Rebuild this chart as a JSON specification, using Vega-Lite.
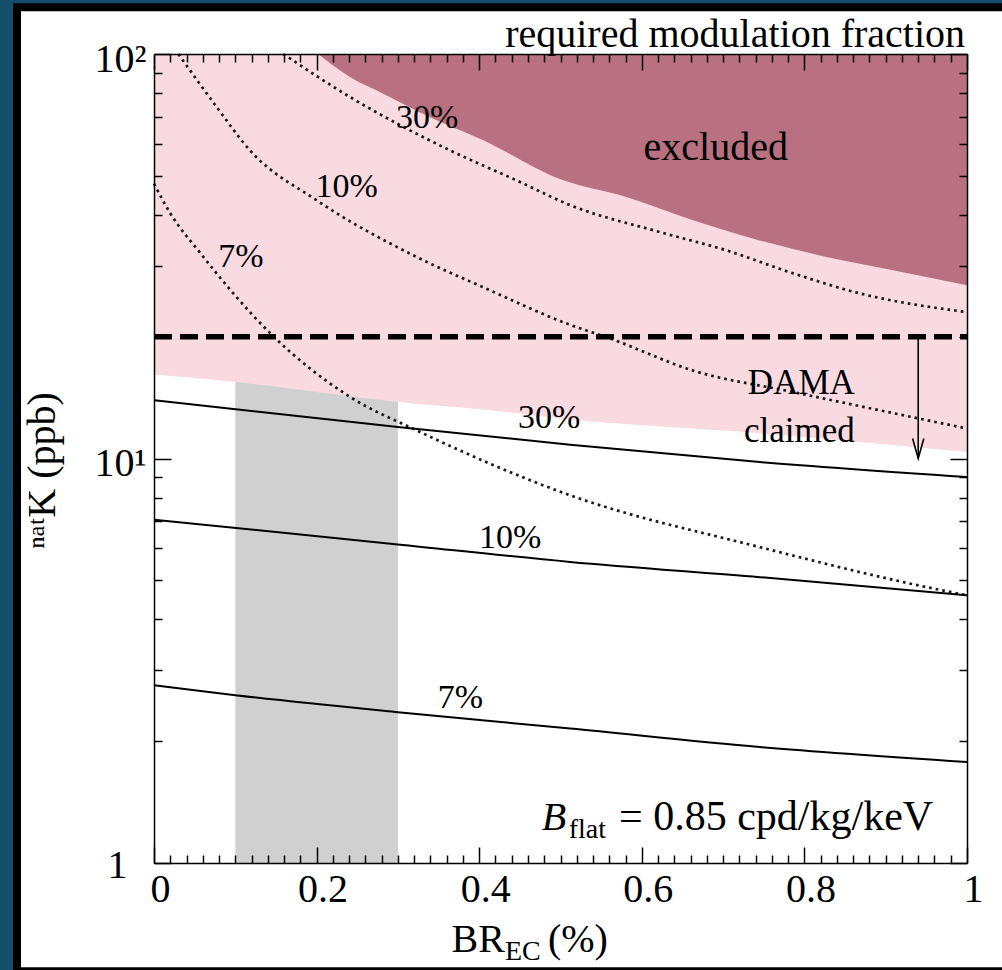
{
  "$schema": "https://vega.github.io/schema/vega-lite/v6.json",
  "width": 813,
  "height": 809,
  "autosize": {"type": "none"},
  "padding": {"left": 154, "top": 54, "right": 35, "bottom": 107},
  "background": "#154d6d",
  "config": {
    "view": {"stroke": null, "fill": null},
    "axis": {
      "domainColor": "black",
      "domainWidth": 1.5,
      "tickColor": "black",
      "tickWidth": 1.5,
      "labelFont": "Liberation Serif",
      "labelFontSize": 40,
      "labelColor": "black",
      "labelFlush": false,
      "labelOverlap": false,
      "titleFont": "Liberation Serif",
      "titleFontSize": 40,
      "titleFontWeight": "normal",
      "titleColor": "black",
      "grid": false
    },
    "text": {"font": "Liberation Serif", "color": "black"}
  },
  "datasets": {
    "band": [{"x": 0.1, "x2": 0.3, "y": 1, "y2": 100}],
    "claimed": [
      {"x": 0, "y": 16.12, "top": 100},
      {"x": 0.1, "y": 15.46, "top": 100},
      {"x": 0.3, "y": 13.8, "top": 100},
      {"x": 0.413, "y": 13.16, "top": 100},
      {"x": 0.5, "y": 12.55, "top": 100},
      {"x": 0.745, "y": 11.54, "top": 100},
      {"x": 1.0, "y": 10.38, "top": 100}
    ],
    "excluded": [
      {"x": 0.202, "y": 100, "top": 100},
      {"x": 0.241, "y": 87.7, "top": 100},
      {"x": 0.282, "y": 79.8, "top": 100},
      {"x": 0.335, "y": 70.5, "top": 100},
      {"x": 0.405, "y": 61.2, "top": 100},
      {"x": 0.5, "y": 49.0, "top": 100},
      {"x": 0.581, "y": 44.3, "top": 100},
      {"x": 0.663, "y": 38.8, "top": 100},
      {"x": 0.745, "y": 34.6, "top": 100},
      {"x": 0.827, "y": 31.5, "top": 100},
      {"x": 0.909, "y": 29.2, "top": 100},
      {"x": 1.0, "y": 26.8, "top": 100}
    ],
    "curves": [
      {"curve": "d30", "kind": "dotted", "x": 0.159, "y": 100},
      {"curve": "d30", "kind": "dotted", "x": 0.241, "y": 78.3},
      {"curve": "d30", "kind": "dotted", "x": 0.364, "y": 57.8},
      {"curve": "d30", "kind": "dotted", "x": 0.446, "y": 48.7},
      {"curve": "d30", "kind": "dotted", "x": 0.512, "y": 42.3},
      {"curve": "d30", "kind": "dotted", "x": 0.622, "y": 36.3},
      {"curve": "d30", "kind": "dotted", "x": 0.704, "y": 32.7},
      {"curve": "d30", "kind": "dotted", "x": 0.786, "y": 28.7},
      {"curve": "d30", "kind": "dotted", "x": 0.868, "y": 25.6},
      {"curve": "d30", "kind": "dotted", "x": 1.0, "y": 23.0},
      {"curve": "d10", "kind": "dotted", "x": 0.03, "y": 100},
      {"curve": "d10", "kind": "dotted", "x": 0.077, "y": 74},
      {"curve": "d10", "kind": "dotted", "x": 0.118, "y": 57.8},
      {"curve": "d10", "kind": "dotted", "x": 0.2, "y": 43.5},
      {"curve": "d10", "kind": "dotted", "x": 0.323, "y": 31.5},
      {"curve": "d10", "kind": "dotted", "x": 0.405, "y": 26.5},
      {"curve": "d10", "kind": "dotted", "x": 0.512, "y": 21.4},
      {"curve": "d10", "kind": "dotted", "x": 0.561, "y": 19.8},
      {"curve": "d10", "kind": "dotted", "x": 0.663, "y": 16.5},
      {"curve": "d10", "kind": "dotted", "x": 0.786, "y": 14.6},
      {"curve": "d10", "kind": "dotted", "x": 1.0, "y": 11.86},
      {"curve": "d7", "kind": "dotted", "x": 0, "y": 47.8},
      {"curve": "d7", "kind": "dotted", "x": 0.02, "y": 40.4},
      {"curve": "d7", "kind": "dotted", "x": 0.057, "y": 32.2},
      {"curve": "d7", "kind": "dotted", "x": 0.143, "y": 20.4},
      {"curve": "d7", "kind": "dotted", "x": 0.241, "y": 14.2},
      {"curve": "d7", "kind": "dotted", "x": 0.323, "y": 11.74},
      {"curve": "d7", "kind": "dotted", "x": 0.512, "y": 8.11},
      {"curve": "d7", "kind": "dotted", "x": 0.745, "y": 6.04},
      {"curve": "d7", "kind": "dotted", "x": 0.95, "y": 4.81},
      {"curve": "d7", "kind": "dotted", "x": 1.0, "y": 4.59},
      {"curve": "s30", "kind": "solid", "x": 0, "y": 13.93},
      {"curve": "s30", "kind": "solid", "x": 0.3, "y": 11.96},
      {"curve": "s30", "kind": "solid", "x": 0.512, "y": 10.82},
      {"curve": "s30", "kind": "solid", "x": 0.745, "y": 9.8},
      {"curve": "s30", "kind": "solid", "x": 1.0, "y": 9.0},
      {"curve": "s10", "kind": "solid", "x": 0, "y": 7.06},
      {"curve": "s10", "kind": "solid", "x": 0.3, "y": 6.13},
      {"curve": "s10", "kind": "solid", "x": 0.512, "y": 5.55},
      {"curve": "s10", "kind": "solid", "x": 0.745, "y": 5.09},
      {"curve": "s10", "kind": "solid", "x": 1.0, "y": 4.59},
      {"curve": "s7", "kind": "solid", "x": 0, "y": 2.75},
      {"curve": "s7", "kind": "solid", "x": 0.1, "y": 2.6},
      {"curve": "s7", "kind": "solid", "x": 0.3, "y": 2.36},
      {"curve": "s7", "kind": "solid", "x": 0.512, "y": 2.15},
      {"curve": "s7", "kind": "solid", "x": 0.745, "y": 1.935},
      {"curve": "s7", "kind": "solid", "x": 1.0, "y": 1.777}
    ],
    "dama": [{"x": 0, "x2": 1, "y": 20}],
    "arrow": [{"x": 0.94, "y": 20, "y2": 10}],
    "notes": [
      {"group": "top", "x": 1, "y": 100, "text": "required modulation fraction"},
      {"group": "excl", "x": 0.691, "y": 54.6, "text": "excluded"},
      {"group": "pct", "x": 0.336, "y": 69.6, "text": "30%"},
      {"group": "pct", "x": 0.237, "y": 46.9, "text": "10%"},
      {"group": "pct", "x": 0.107, "y": 31.4, "text": "7%"},
      {"group": "pct", "x": 0.486, "y": 12.57, "text": "30%"},
      {"group": "pct", "x": 0.438, "y": 6.37, "text": "10%"},
      {"group": "pct", "x": 0.377, "y": 2.555, "text": "7%"},
      {"group": "dama", "x": 0.862, "y": 15.35, "text": "DAMA"},
      {"group": "dama", "x": 0.862, "y": 11.67, "text": "claimed"},
      {"group": "bsym", "x": 0.477, "y": 1.205, "text": "B"},
      {"group": "bsub", "x": 0.51, "y": 1.205, "text": "flat"},
      {"group": "bval", "x": 0.572, "y": 1.205, "text": "= 0.85 cpd/kg/keV"},
      {"group": "xbr", "x": 0.4317, "y": 1, "text": "BR"},
      {"group": "xsub", "x": 0.4317, "y": 1, "text": "EC"},
      {"group": "xpct", "x": 0.4846, "y": 1, "text": "(%)"}
    ]
  },
  "resolve": {"axis": {"x": "independent", "y": "independent"}},
  "layer": [
    {
      "data": {"name": "band"},
      "mark": {"type": "rect", "fill": "white", "stroke": "black", "strokeWidth": 8},
      "encoding": {
        "x": {"datum": -0.1685, "type": "quantitative", "scale": {"domain": [0, 1], "nice": false, "zero": false}, "axis": null},
        "x2": {"datum": 1.0529},
        "y": {"datum": 130.5, "type": "quantitative", "scale": {"type": "log", "domain": [1, 100], "nice": false}, "axis": null},
        "y2": {"datum": 0.54}
      }
    },
    {
      "data": {"name": "band"},
      "mark": {"type": "rect", "fill": "#d0d0d0"},
      "encoding": {
        "x": {"field": "x", "type": "quantitative", "scale": {"domain": [0, 1], "nice": false, "zero": false}, "axis": null},
        "x2": {"field": "x2"},
        "y": {"field": "y", "type": "quantitative", "scale": {"type": "log", "domain": [1, 100], "nice": false}, "axis": null},
        "y2": {"field": "y2"}
      }
    },
    {
      "data": {"name": "claimed"},
      "mark": {"type": "area", "fill": "#f8dae0", "interpolate": "monotone"},
      "encoding": {
        "x": {"field": "x", "type": "quantitative", "scale": {"domain": [0, 1], "nice": false, "zero": false}, "axis": null},
        "y": {"field": "y", "type": "quantitative", "scale": {"type": "log", "domain": [1, 100], "nice": false}, "axis": null},
        "y2": {"field": "top"}
      }
    },
    {
      "data": {"name": "excluded"},
      "mark": {"type": "area", "fill": "#b97080", "interpolate": "monotone"},
      "encoding": {
        "x": {"field": "x", "type": "quantitative", "scale": {"domain": [0, 1], "nice": false, "zero": false}, "axis": null},
        "y": {"field": "y", "type": "quantitative", "scale": {"type": "log", "domain": [1, 100], "nice": false}, "axis": null},
        "y2": {"field": "top"}
      }
    },
    {
      "data": {"name": "curves"},
      "transform": [{"filter": "datum.kind == 'dotted'"}],
      "mark": {"type": "line", "stroke": "#1a1a1a", "strokeWidth": 2.7, "strokeDash": [2.7, 4.0], "interpolate": "monotone"},
      "encoding": {
        "x": {"field": "x", "type": "quantitative", "scale": {"domain": [0, 1], "nice": false, "zero": false}, "axis": null},
        "y": {"field": "y", "type": "quantitative", "scale": {"type": "log", "domain": [1, 100], "nice": false}, "axis": null},
        "detail": {"field": "curve"}
      }
    },
    {
      "data": {"name": "curves"},
      "transform": [{"filter": "datum.kind == 'solid'"}],
      "mark": {"type": "line", "stroke": "black", "strokeWidth": 2, "interpolate": "monotone"},
      "encoding": {
        "x": {"field": "x", "type": "quantitative", "scale": {"domain": [0, 1], "nice": false, "zero": false}, "axis": null},
        "y": {"field": "y", "type": "quantitative", "scale": {"type": "log", "domain": [1, 100], "nice": false}, "axis": null},
        "detail": {"field": "curve"}
      }
    },
    {
      "data": {"name": "dama"},
      "mark": {"type": "rule", "stroke": "black", "strokeWidth": 5.5, "strokeDash": [18, 8]},
      "encoding": {
        "x": {"field": "x", "type": "quantitative", "scale": {"domain": [0, 1], "nice": false, "zero": false}, "axis": null},
        "x2": {"field": "x2"},
        "y": {"field": "y", "type": "quantitative", "scale": {"type": "log", "domain": [1, 100], "nice": false}, "axis": null}
      }
    },
    {
      "data": {"name": "arrow"},
      "mark": {"type": "rule", "stroke": "black", "strokeWidth": 1.6},
      "encoding": {
        "x": {"field": "x", "type": "quantitative", "scale": {"domain": [0, 1], "nice": false, "zero": false}, "axis": null},
        "y": {"field": "y", "type": "quantitative", "scale": {"type": "log", "domain": [1, 100], "nice": false}, "axis": null},
        "y2": {"field": "y2"}
      }
    },
    {
      "data": {"name": "arrow"},
      "mark": {"type": "point", "shape": "M-0.28,-1L0,0L0.28,-1", "filled": false, "stroke": "black", "strokeWidth": 1.6, "size": 1600, "opacity": 1},
      "encoding": {
        "x": {"field": "x", "type": "quantitative", "scale": {"domain": [0, 1], "nice": false, "zero": false}, "axis": null},
        "y": {"field": "y2", "type": "quantitative", "scale": {"type": "log", "domain": [1, 100], "nice": false}, "axis": null}
      }
    },
    {
      "data": {"name": "notes"},
      "transform": [{"filter": "datum.group == 'top'"}],
      "mark": {"type": "text", "fontSize": 40, "align": "right", "baseline": "alphabetic", "dy": -7, "dx": -2},
      "encoding": {
        "x": {"field": "x", "type": "quantitative", "scale": {"domain": [0, 1], "nice": false, "zero": false}, "axis": null},
        "y": {"field": "y", "type": "quantitative", "scale": {"type": "log", "domain": [1, 100], "nice": false}, "axis": null},
        "text": {"field": "text"}
      }
    },
    {
      "data": {"name": "notes"},
      "transform": [{"filter": "datum.group == 'excl'"}],
      "mark": {"type": "text", "fontSize": 40, "align": "center", "baseline": "alphabetic"},
      "encoding": {
        "x": {"field": "x", "type": "quantitative", "scale": {"domain": [0, 1], "nice": false, "zero": false}, "axis": null},
        "y": {"field": "y", "type": "quantitative", "scale": {"type": "log", "domain": [1, 100], "nice": false}, "axis": null},
        "text": {"field": "text"}
      }
    },
    {
      "data": {"name": "notes"},
      "transform": [{"filter": "datum.group == 'pct'"}],
      "mark": {"type": "text", "fontSize": 34, "align": "center", "baseline": "middle"},
      "encoding": {
        "x": {"field": "x", "type": "quantitative", "scale": {"domain": [0, 1], "nice": false, "zero": false}, "axis": null},
        "y": {"field": "y", "type": "quantitative", "scale": {"type": "log", "domain": [1, 100], "nice": false}, "axis": null},
        "text": {"field": "text"}
      }
    },
    {
      "data": {"name": "notes"},
      "transform": [{"filter": "datum.group == 'dama'"}],
      "mark": {"type": "text", "fontSize": 35, "align": "right", "baseline": "middle"},
      "encoding": {
        "x": {"field": "x", "type": "quantitative", "scale": {"domain": [0, 1], "nice": false, "zero": false}, "axis": null},
        "y": {"field": "y", "type": "quantitative", "scale": {"type": "log", "domain": [1, 100], "nice": false}, "axis": null},
        "text": {"field": "text"}
      }
    },
    {
      "data": {"name": "notes"},
      "transform": [{"filter": "datum.group == 'bsym'"}],
      "mark": {"type": "text", "fontSize": 40, "fontStyle": "italic", "align": "left", "baseline": "alphabetic"},
      "encoding": {
        "x": {"field": "x", "type": "quantitative", "scale": {"domain": [0, 1], "nice": false, "zero": false}, "axis": null},
        "y": {"field": "y", "type": "quantitative", "scale": {"type": "log", "domain": [1, 100], "nice": false}, "axis": null},
        "text": {"field": "text"}
      }
    },
    {
      "data": {"name": "notes"},
      "transform": [{"filter": "datum.group == 'bsub'"}],
      "mark": {"type": "text", "fontSize": 28, "align": "left", "baseline": "alphabetic", "dy": 8},
      "encoding": {
        "x": {"field": "x", "type": "quantitative", "scale": {"domain": [0, 1], "nice": false, "zero": false}, "axis": null},
        "y": {"field": "y", "type": "quantitative", "scale": {"type": "log", "domain": [1, 100], "nice": false}, "axis": null},
        "text": {"field": "text"}
      }
    },
    {
      "data": {"name": "notes"},
      "transform": [{"filter": "datum.group == 'bval'"}],
      "mark": {"type": "text", "fontSize": 42, "align": "left", "baseline": "alphabetic"},
      "encoding": {
        "x": {"field": "x", "type": "quantitative", "scale": {"domain": [0, 1], "nice": false, "zero": false}, "axis": null},
        "y": {"field": "y", "type": "quantitative", "scale": {"type": "log", "domain": [1, 100], "nice": false}, "axis": null},
        "text": {"field": "text"}
      }
    },
    {
      "data": {"name": "notes"},
      "transform": [{"filter": "datum.group == 'xbr'"}],
      "mark": {"type": "text", "fontSize": 40, "align": "right", "baseline": "alphabetic", "dy": 89},
      "encoding": {
        "x": {"field": "x", "type": "quantitative", "scale": {"domain": [0, 1], "nice": false, "zero": false}, "axis": null},
        "y": {"field": "y", "type": "quantitative", "scale": {"type": "log", "domain": [1, 100], "nice": false}, "axis": null},
        "text": {"field": "text"}
      }
    },
    {
      "data": {"name": "notes"},
      "transform": [{"filter": "datum.group == 'xsub'"}],
      "mark": {"type": "text", "fontSize": 28, "align": "left", "baseline": "alphabetic", "dy": 97},
      "encoding": {
        "x": {"field": "x", "type": "quantitative", "scale": {"domain": [0, 1], "nice": false, "zero": false}, "axis": null},
        "y": {"field": "y", "type": "quantitative", "scale": {"type": "log", "domain": [1, 100], "nice": false}, "axis": null},
        "text": {"field": "text"}
      }
    },
    {
      "data": {"name": "notes"},
      "transform": [{"filter": "datum.group == 'xpct'"}],
      "mark": {"type": "text", "fontSize": 40, "align": "left", "baseline": "alphabetic", "dy": 89},
      "encoding": {
        "x": {"field": "x", "type": "quantitative", "scale": {"domain": [0, 1], "nice": false, "zero": false}, "axis": null},
        "y": {"field": "y", "type": "quantitative", "scale": {"type": "log", "domain": [1, 100], "nice": false}, "axis": null},
        "text": {"field": "text"}
      }
    },
    {
      "data": {"name": "band"},
      "mark": {"type": "point", "opacity": 0},
      "encoding": {
        "x": {
          "field": "x", "type": "quantitative",
          "scale": {"domain": [0, 1], "nice": false, "zero": false},
          "axis": {
            "orient": "bottom",
            "zindex": 2,
            "title": null,
            "values": [0,0.02,0.04,0.06,0.08,0.1,0.12,0.14,0.16,0.18,0.2,0.22,0.24,0.26,0.28,0.3,0.32,0.34,0.36,0.38,0.4,0.42,0.44,0.46,0.48,0.5,0.52,0.54,0.56,0.58,0.6,0.62,0.64,0.66,0.68,0.7,0.72,0.74,0.76,0.78,0.8,0.82,0.84,0.86,0.88,0.9,0.92,0.94,0.96,0.98,1],
            "tickSize": {"condition": {"test": "abs(datum.value*5-round(datum.value*5))<0.001", "value": -16}, "value": -8},
            "labelExpr": "abs(datum.value*5-round(datum.value*5))<0.001 ? (datum.value==0 ? '0' : datum.value==1 ? '1' : format(datum.value, '.1f')) : ''",
            "labelPadding": 42,
            "labelOffset": 6,
            "labelAlign": "center",
            "labelBaseline": "middle"
          }
        },
        "y": {
          "field": "y", "type": "quantitative",
          "scale": {"type": "log", "domain": [1, 100], "nice": false},
          "axis": {
            "orient": "left",
            "zindex": 2,
            "title": "ⁿᵃᵗK (ppb)",
            "titleX": -112,
            "titleY": 416,
            "titleAngle": -90,
            "titleAlign": "center",
            "titleBaseline": "middle",
            "values": [1,2,3,4,5,6,7,8,9,10,20,30,40,50,60,70,80,90,100],
            "tickSize": {"condition": {"test": "indexof([1,10,100], datum.value) >= 0", "value": -17}, "value": -8},
            "labelExpr": "datum.value==100 ? '10²' : datum.value==10 ? '10¹' : datum.value==1 ? '1' : ''",
            "labelPadding": {"condition": {"test": "datum.value==1", "value": 44}, "value": 25},
            "labelOffset": {"condition": {"test": "datum.value==1", "value": 2}, "value": 5},
            "labelAlign": "right",
            "labelBaseline": "middle"
          }
        }
      }
    },
    {
      "data": {"name": "band"},
      "mark": {"type": "point", "opacity": 0},
      "encoding": {
        "x": {
          "field": "x", "type": "quantitative",
          "scale": {"domain": [0, 1], "nice": false, "zero": false},
          "axis": {
            "orient": "top",
            "zindex": 2,
            "title": null,
            "labels": false,
            "values": [0,0.02,0.04,0.06,0.08,0.1,0.12,0.14,0.16,0.18,0.2,0.22,0.24,0.26,0.28,0.3,0.32,0.34,0.36,0.38,0.4,0.42,0.44,0.46,0.48,0.5,0.52,0.54,0.56,0.58,0.6,0.62,0.64,0.66,0.68,0.7,0.72,0.74,0.76,0.78,0.8,0.82,0.84,0.86,0.88,0.9,0.92,0.94,0.96,0.98,1],
            "tickSize": {"condition": {"test": "abs(datum.value*5-round(datum.value*5))<0.001", "value": -16}, "value": -8}
          }
        },
        "y": {
          "field": "y", "type": "quantitative",
          "scale": {"type": "log", "domain": [1, 100], "nice": false},
          "axis": {
            "orient": "right",
            "zindex": 2,
            "title": null,
            "labels": false,
            "values": [1,2,3,4,5,6,7,8,9,10,20,30,40,50,60,70,80,90,100],
            "tickSize": {"condition": {"test": "indexof([1,10,100], datum.value) >= 0", "value": -17}, "value": -8}
          }
        }
      }
    }
  ]
}
